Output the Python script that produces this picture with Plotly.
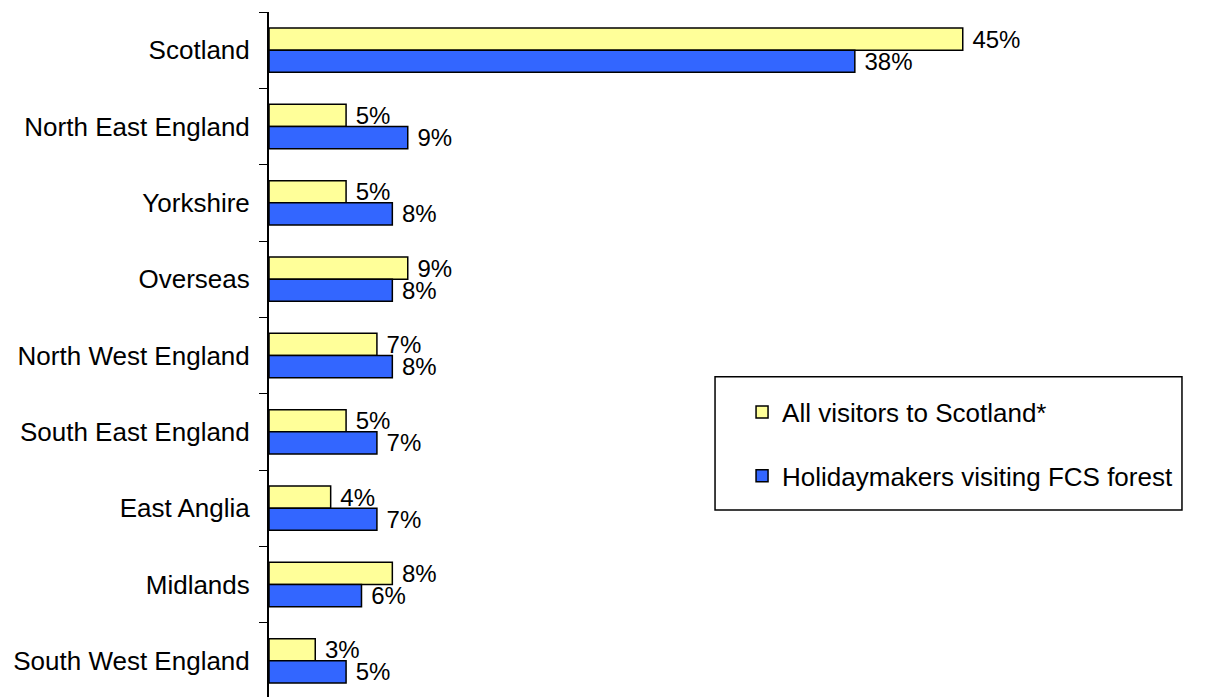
import plotly.graph_objects as go

regions = ["Scotland", "North East England", "Yorkshire", "Overseas",
           "North West England", "South East England", "East Anglia",
           "Midlands", "South West England"]
all_visitors = [45, 5, 5, 9, 7, 5, 4, 8, 3]
fcs_holidaymakers = [38, 9, 8, 8, 8, 7, 7, 6, 5]

font = dict(family="Liberation Sans, Arial, sans-serif", size=24, color="black")

fig = go.Figure()
fig.add_trace(go.Bar(
    y=regions, x=all_visitors, orientation="h", name="All visitors to Scotland*",
    marker=dict(color="#FFFF99", line=dict(color="black", width=1.5)),
    text=[f" {v}%" for v in all_visitors], textposition="outside",
    textfont=font, constraintext="none", cliponaxis=False, legendgroup="a",
))
fig.add_trace(go.Bar(
    y=regions, x=fcs_holidaymakers, orientation="h",
    name="Holidaymakers visiting FCS forest",
    marker=dict(color="#3366FF", line=dict(color="black", width=1.5)),
    text=[f" {v}%" for v in fcs_holidaymakers], textposition="outside",
    textfont=font, constraintext="none", cliponaxis=False, legendgroup="b",
))

# the page body adds an 8px offset, margins account for it
fig.update_layout(
    width=1210, height=697,
    margin=dict(l=261, r=24, t=4, b=6, autoexpand=False),
    barmode="group", bargap=0.42, bargroupgap=0,
    plot_bgcolor="white", paper_bgcolor="white",
    font=font,
    showlegend=True,
    legend=dict(
        x=0.5114, y=0.452, xanchor="left", yanchor="top",
        borderwidth=0, bgcolor="rgba(0,0,0,0)",
        font=dict(font, size=26), tracegroupgap=27, traceorder="grouped",
    ),
    shapes=[dict(
        type="rect", xref="paper", yref="paper",
        x0=0.4822, x1=0.987, y0=0.275, y1=0.469,
        line=dict(color="black", width=1.5), fillcolor="white", layer="below",
    )],
)
fig.update_xaxes(range=[0, 60], visible=False)
fig.update_yaxes(
    autorange="reversed", showline=True, linecolor="black", linewidth=2,
    ticks="outside", ticklen=8, tickcolor="black", tickson="boundaries",
    showgrid=False, ticklabelstandoff=12, tickfont=dict(font, size=26),
    automargin=False,
)

fig.write_html("out.html")
